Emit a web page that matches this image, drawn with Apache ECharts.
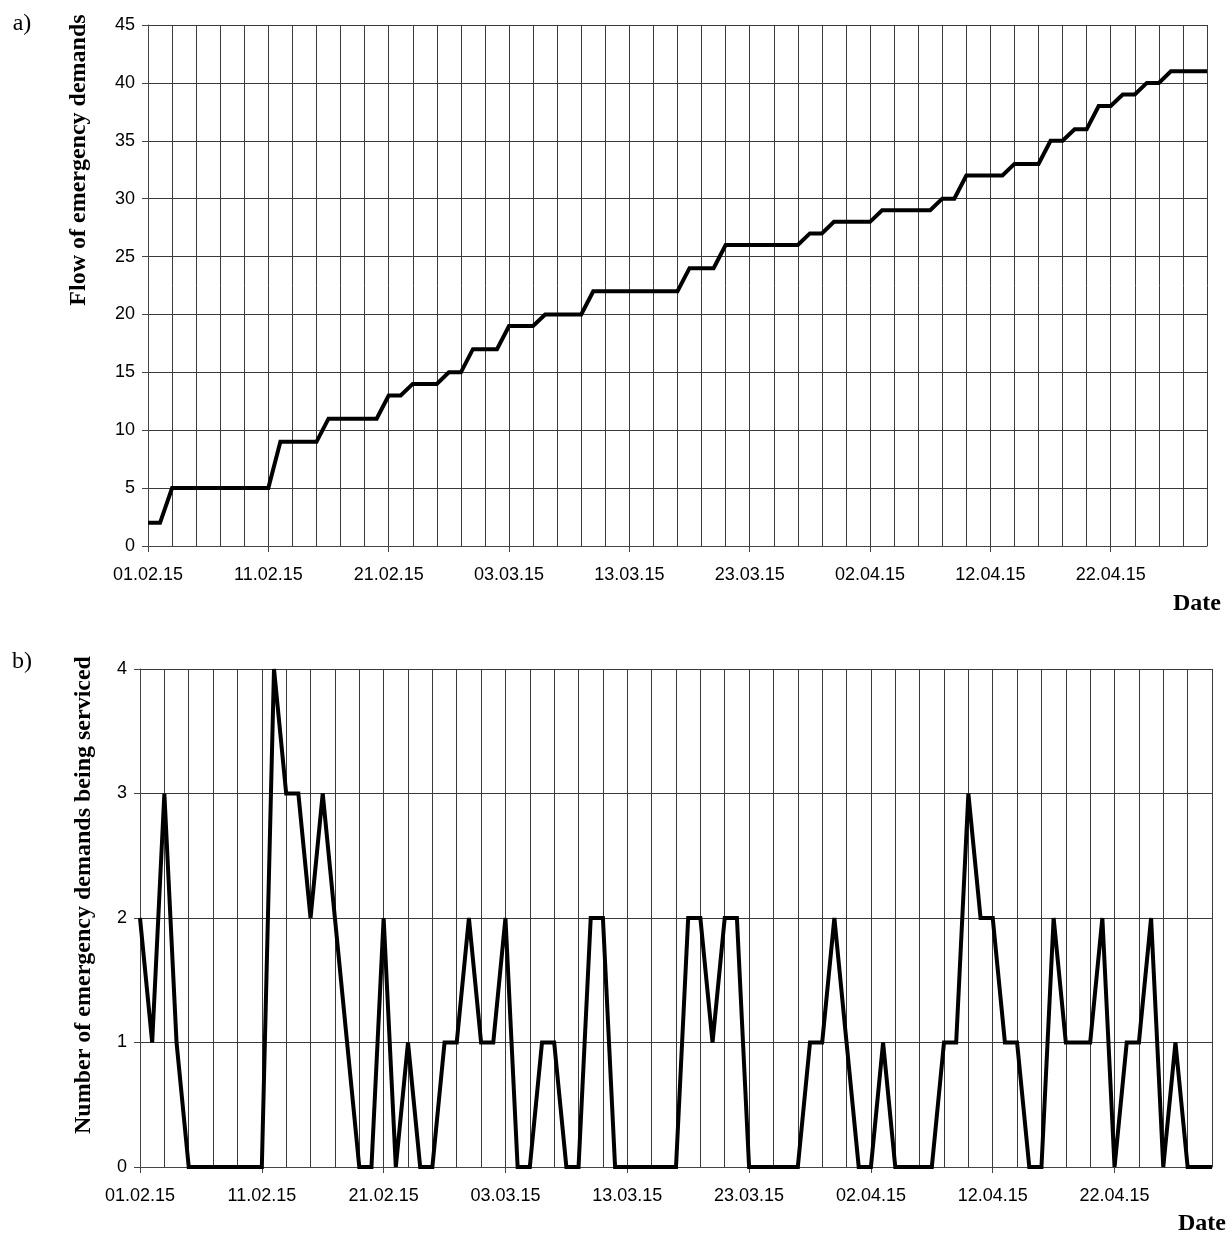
<!DOCTYPE html>
<html>
<head>
<meta charset="utf-8">
<title>Emergency demands</title>
<script src="https://cdn.jsdelivr.net/npm/echarts@6/dist/echarts.min.js"></script>
<style>
html, body { margin: 0; padding: 0; background: #fff; }
#chart { width: 1232px; height: 1235px; }
</style>
</head>
<body>
<div id="chart"></div>
<script>
// one category per day, 01.02.15 - 30.04.15
var dates = [
	'01.02.15','02.02.15','03.02.15','04.02.15','05.02.15','06.02.15','07.02.15','08.02.15','09.02.15','10.02.15',
	'11.02.15','12.02.15','13.02.15','14.02.15','15.02.15','16.02.15','17.02.15','18.02.15','19.02.15','20.02.15',
	'21.02.15','22.02.15','23.02.15','24.02.15','25.02.15','26.02.15','27.02.15','28.02.15',
	'01.03.15','02.03.15','03.03.15','04.03.15','05.03.15','06.03.15','07.03.15','08.03.15','09.03.15','10.03.15',
	'11.03.15','12.03.15','13.03.15','14.03.15','15.03.15','16.03.15','17.03.15','18.03.15','19.03.15','20.03.15',
	'21.03.15','22.03.15','23.03.15','24.03.15','25.03.15','26.03.15','27.03.15','28.03.15','29.03.15','30.03.15','31.03.15',
	'01.04.15','02.04.15','03.04.15','04.04.15','05.04.15','06.04.15','07.04.15','08.04.15','09.04.15','10.04.15',
	'11.04.15','12.04.15','13.04.15','14.04.15','15.04.15','16.04.15','17.04.15','18.04.15','19.04.15','20.04.15',
	'21.04.15','22.04.15','23.04.15','24.04.15','25.04.15','26.04.15','27.04.15','28.04.15','29.04.15','30.04.15'
];
// a) cumulative flow of emergency demands
var flowData = [
	2,2,5,5,5,5,5,5,5,5,5,
	9,9,9,9,11,11,11,11,11,13,
	13,14,14,14,15,15,17,17,17,19,
	19,19,20,20,20,20,22,22,22,22,
	22,22,22,22,24,24,24,26,26,26,
	26,26,26,26,27,27,28,28,28,28,
	29,29,29,29,29,30,30,32,32,32,
	32,33,33,33,35,35,36,36,38,38,
	39,39,40,40,41,41,41,41
];
// b) demands being serviced per day
var servicedData = [
	2,1,3,1,0,0,0,0,0,0,0,
	4,3,3,2,3,2,1,0,0,2,
	0,1,0,0,1,1,2,1,1,2,
	0,0,1,1,0,0,2,2,0,0,
	0,0,0,0,2,2,1,2,2,0,
	0,0,0,0,1,1,2,1,0,0,
	1,0,0,0,0,1,1,3,2,2,
	1,1,0,0,2,1,1,1,2,0,
	1,1,2,0,1,0,0,0
];
var flowAxis = { min: 0, max: 45, step: 5 };
var servicedAxis = { min: 0, max: 4, step: 1 };

var sansFont = "'Liberation Sans', Arial, sans-serif";
var serifFont = "'Liberation Serif', 'Times New Roman', serif";
var gridColor = '#3a3a3a';

var demandsChart = {
	init: function () {
		var myChart = echarts.init(document.getElementById('chart'));
		myChart.setOption(demandsChart.buildOption());
	},
	xAxisFor: function (gridIndex) {
		return {
			type: 'category',
			gridIndex: gridIndex,
			data: dates,
			boundaryGap: false,
			axisLine: { lineStyle: { color: '#444', width: 1 } },
			axisTick: { interval: 9, length: 6, lineStyle: { color: '#444' } },
			axisLabel: { interval: 9, margin: 20, color: '#000', fontSize: 18, fontFamily: sansFont },
			splitLine: {
				show: true,
				interval: function (index) { return index % 2 === 0; },
				lineStyle: { color: gridColor, width: 1 }
			}
		};
	},
	yAxisFor: function (gridIndex, range) {
		return {
			type: 'value',
			gridIndex: gridIndex,
			min: range.min,
			max: range.max,
			interval: range.step,
			axisLine: { show: true, lineStyle: { color: '#444', width: 1 } },
			axisTick: { show: true, length: 6, lineStyle: { color: '#444' } },
			axisLabel: { margin: 13, color: '#000', fontSize: 18, fontFamily: sansFont },
			splitLine: { show: true, lineStyle: { color: gridColor, width: 1 } }
		};
	},
	lineFor: function (index, data) {
		return {
			type: 'line',
			xAxisIndex: index,
			yAxisIndex: index,
			data: data,
			symbol: 'none',
			animation: false,
			lineStyle: { color: '#000', width: 4, join: 'miter' }
		};
	},
	textFor: function (text, x, y, bold, rotate) {
		return {
			type: 'text',
			x: x,
			y: y,
			rotation: rotate ? Math.PI / 2 : 0,
			style: {
				text: text,
				fill: '#000',
				font: (bold ? 'bold ' : '') + '24px ' + serifFont,
				textAlign: 'center',
				textVerticalAlign: 'middle'
			}
		};
	},
	buildOption: function () {
		return {
			backgroundColor: '#fff',
			animation: false,
			grid: [
				{ left: 148, right: 25, top: 25, height: 521 },
				{ left: 140, right: 20, top: 669, height: 498 }
			],
			xAxis: [demandsChart.xAxisFor(0), demandsChart.xAxisFor(1)],
			yAxis: [demandsChart.yAxisFor(0, flowAxis), demandsChart.yAxisFor(1, servicedAxis)],
			series: [demandsChart.lineFor(0, flowData), demandsChart.lineFor(1, servicedData)],
			graphic: [
				demandsChart.textFor('a)', 22, 24, false, false),
				demandsChart.textFor('Flow of emergency demands', 79, 160, true, true),
				demandsChart.textFor('Date', 1197, 604, true, false),
				demandsChart.textFor('b)', 22, 662, false, false),
				demandsChart.textFor('Number of emergency demands being serviced', 84, 895, true, true),
				demandsChart.textFor('Date', 1202, 1224, true, false)
			]
		};
	}
};

demandsChart.init();
</script>
</body>
</html>
